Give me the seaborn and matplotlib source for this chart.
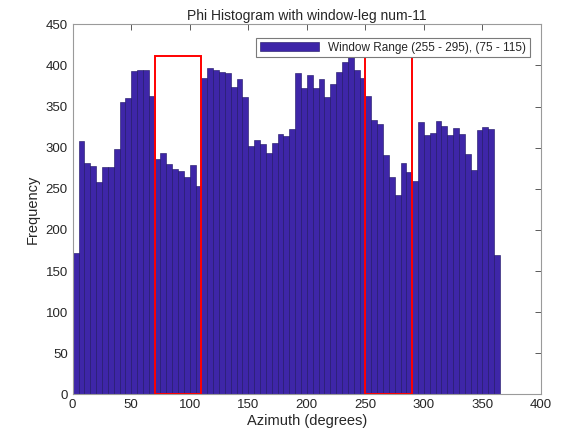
import numpy as np
import pandas as pd
import matplotlib
matplotlib.use("Agg")
import matplotlib.pyplot as plt
import matplotlib.patches as mpatches
import seaborn as sns

# histogram counts per 5-degree azimuth bin (0-365)
bin_width = 5
counts = [172, 308, 282, 278, 258, 276, 277, 298, 355, 360,
          393, 395, 395, 363, 286, 294, 280, 274, 272, 265,
          279, 253, 385, 397, 394, 392, 391, 374, 384, 362,
          302, 309, 304, 294, 306, 317, 314, 323, 391, 373,
          388, 372, 384, 362, 377, 392, 404, 410, 395, 385,
          363, 334, 329, 291, 264, 242, 282, 270, 260, 331,
          315, 318, 332, 327, 316, 324, 317, 292, 273, 322,
          325, 323, 170]
bin_left = np.arange(len(counts)) * bin_width

# window rectangles drawn on top
win_lo = [70, 250]
win_hi = [110, 290]
win_top = 412

legend_label = "Window Range (255 - 295), (75 - 115)"

df = pd.DataFrame({"azimuth": bin_left + bin_width / 2, "count": counts})

sns.set_style("white")
plt.rcParams['font.family'] = ['Liberation Sans', 'DejaVu Sans']

fig = plt.figure(figsize=(5.8, 4.43), dpi=100)
ax = fig.add_axes([0.1253, 0.1095, 0.8075, 0.8356])

sns.histplot(data=df, x="azimuth", weights="count", binwidth=bin_width,
             binrange=(0, len(counts) * bin_width), color="#3E26A8",
             edgecolor="#1a1060", linewidth=0.4, alpha=1.0, ax=ax,
             label=legend_label)

for lo, hi in zip(win_lo, win_hi):
    ax.add_patch(mpatches.Rectangle((lo, 0), hi - lo, win_top, fill=False,
                                    edgecolor="red", lw=1.4, zorder=4))

ax.set_xlim(0, 400)
ax.set_ylim(0, 450)
ax.set_xticks(range(0, 401, 50))
ax.set_yticks(range(0, 451, 50))
ax.tick_params(direction="in", top=True, right=True, length=4, width=0.6,
               labelsize=9.5, colors="#404040", labelcolor="#262626")
for s in ax.spines.values():
    s.set_color("#9a9a9a")
    s.set_linewidth(0.8)

ax.set_title("Phi Histogram with window-leg num-11", fontsize=10, color="#262626", pad=3)
ax.set_xlabel("Azimuth (degrees)", fontsize=10.5, color="#262626", labelpad=2)
ax.set_ylabel("Frequency", fontsize=10.5, color="#262626", labelpad=4)

leg = ax.legend(loc="upper right", fontsize=8.5, frameon=True, fancybox=False,
                framealpha=1.0, handlelength=5.0, handleheight=0.9, borderpad=0.3,
                bbox_to_anchor=(0.9765, 0.963), borderaxespad=0)
leg.get_frame().set_edgecolor("#7a7a7a")
leg.get_frame().set_linewidth(0.8)
leg.set_zorder(6)

fig.savefig("out.png", dpi=100)
